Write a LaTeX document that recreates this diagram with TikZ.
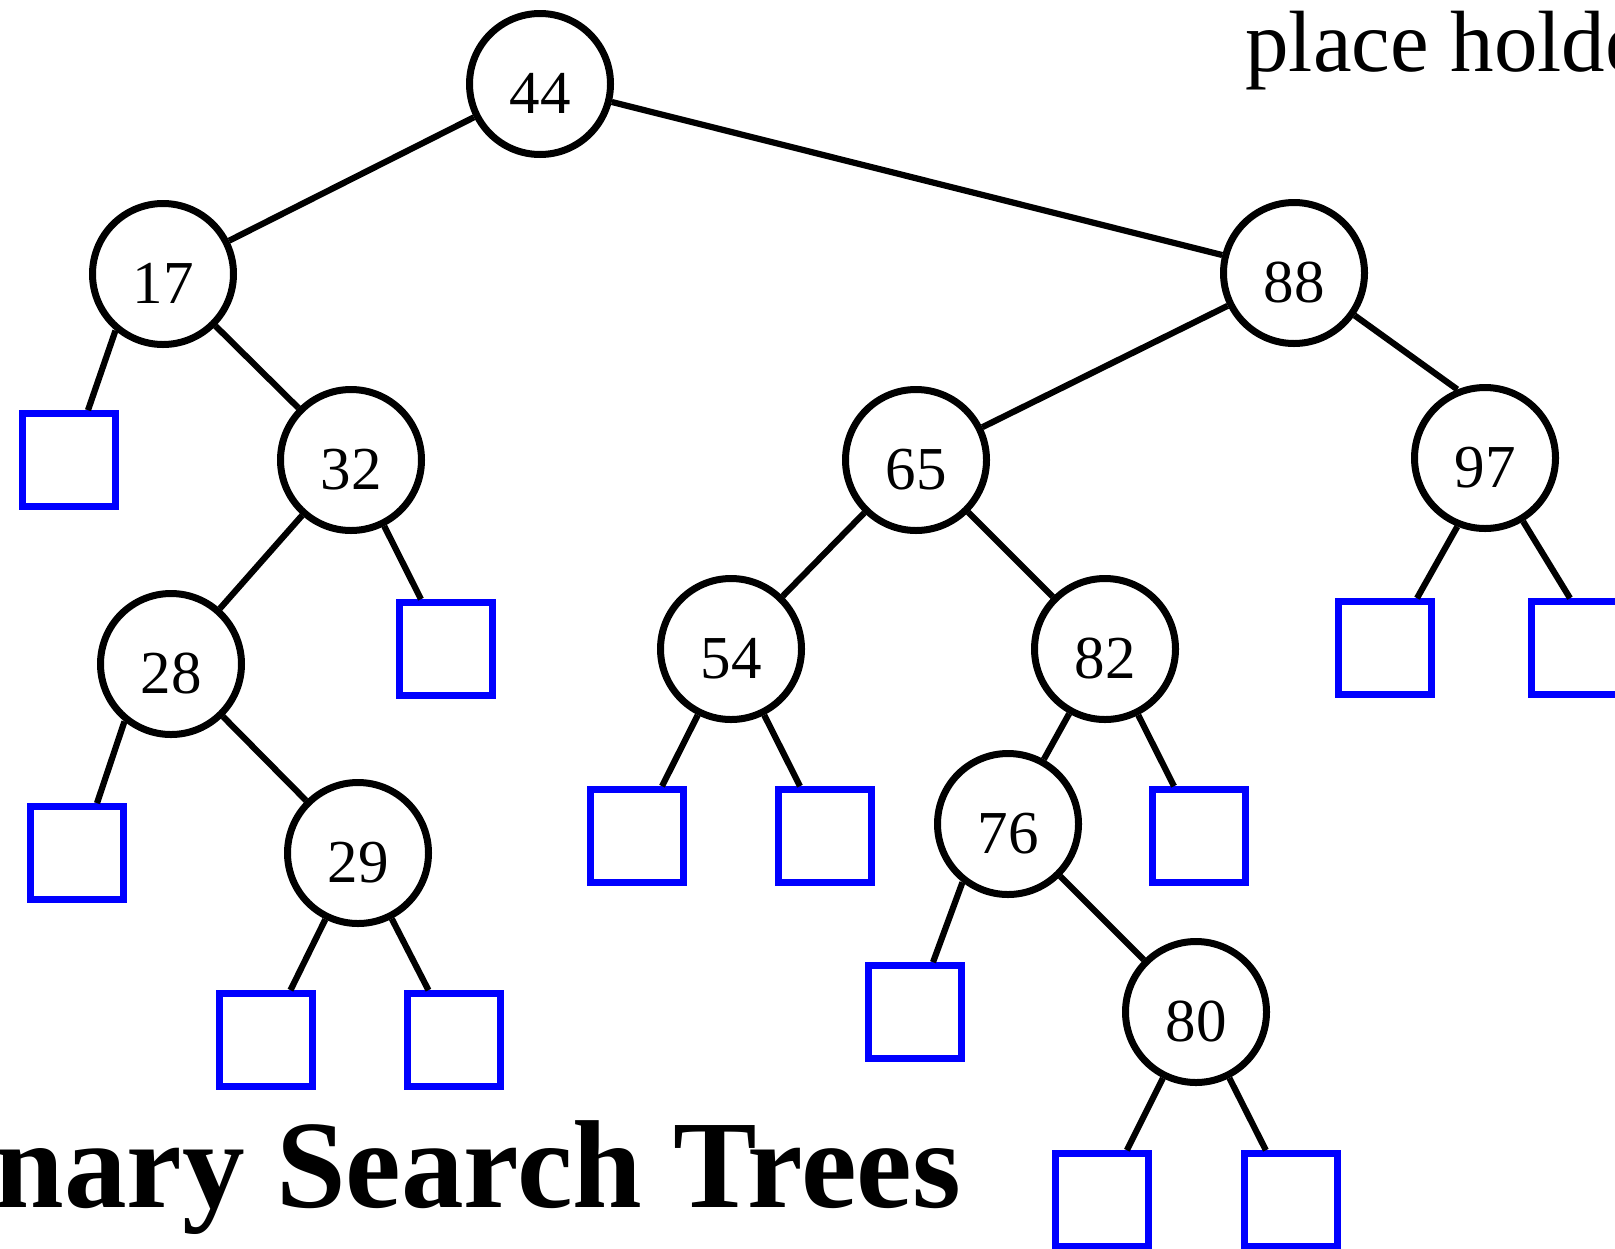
\documentclass[tikz,border=0pt]{standalone}
\usepackage{fontspec}
\setmainfont{Liberation Serif}
\begin{document}
\begin{tikzpicture}[x=0.5pt,y=-0.5pt,
  key/.style={circle, draw=black, line width=3.5pt, minimum size=70.5pt,
    inner sep=0pt, font=\fontsize{30.5}{36}\selectfont,
    text height=29.6pt, text depth=0pt},
  leaf/.style={rectangle, draw=blue, line width=3.3pt, minimum size=46.5pt, inner sep=0pt},
  link/.style={draw=black, line width=3.1pt}]
\useasboundingbox (0,0) rectangle (1615,1248);
\clip (0,0) rectangle (1615,1248);

% internal nodes
\node[key] (n44) at (540,84)   {44};
\node[key] (n17) at (163,274)  {17};
\node[key] (n88) at (1294,273) {88};
\node[key] (n32) at (351,460)  {32};
\node[key] (n65) at (916,460)  {65};
\node[key] (n97) at (1485,458) {97};
\node[key] (n28) at (171,664)  {28};
\node[key] (n54) at (731,649)  {54};
\node[key] (n82) at (1105,649) {82};
\node[key] (n29) at (358,853)  {29};
\node[key] (n76) at (1008,824) {76};
\node[key] (n80) at (1196,1012){80};

% external (empty) nodes
\node[leaf] (l17)  at (69,460)    {};
\node[leaf] (l32)  at (446,649)   {};
\node[leaf] (l28)  at (77,853)    {};
\node[leaf] (l29a) at (266,1040)  {};
\node[leaf] (l29b) at (454,1040)  {};
\node[leaf] (l54a) at (637,836)   {};
\node[leaf] (l54b) at (825,836)   {};
\node[leaf] (l82)  at (1199,836)  {};
\node[leaf] (l76)  at (915,1012)  {};
\node[leaf] (l80a) at (1102,1200) {};
\node[leaf] (l80b) at (1291,1200) {};
\node[leaf] (l97a) at (1385,648)  {};
\node[leaf] (l97b) at (1578,648)  {};

% tree edges
\path[link] (n44) -- (n17);
\path[link] (n44) -- (n88);
\path[link] (n17.230) -- ([xshift=9.5pt]l17.north);
\path[link] (n17) -- (n32);
\path[link] (n32) -- (n28);
\path[link] (n32) -- (l32);
\path[link] (n28.231) -- ([xshift=10pt]l28.north);
\path[link] (n28) -- (n29);
\path[link] (n29) -- (l29a);
\path[link] (n29) -- (l29b);
\path[link] (n88) -- (n65);
\path[link] (n88.-35) -- (n97.112);
\path[link] (n65) -- (n54);
\path[link] (n65) -- (n82);
\path[link] (n54) -- (l54a);
\path[link] (n54) -- (l54b);
\path[link] (n82) -- (n76);
\path[link] (n82) -- (l82);
\path[link] (n76.232) -- ([xshift=9pt]l76.north);
\path[link] (n76) -- (n80);
\path[link] (n80) -- (l80a);
\path[link] (n80) -- (l80b);
\path[link] (n97.248) -- ([xshift=16pt]l97a.north);
\path[link] (n97.-59) -- ([xshift=-4pt]l97b.north);

% captions
\node[anchor=base west, inner sep=0pt, font=\fontsize{43.5}{52}\selectfont]
  (ph) at (1245,71) {place holde};
\node[anchor=base west, inner sep=0pt, font=\bfseries\fontsize{62.6}{75}\selectfont]
  (title) at (-6,1207) {nary Search Trees};
\end{tikzpicture}
\end{document}
